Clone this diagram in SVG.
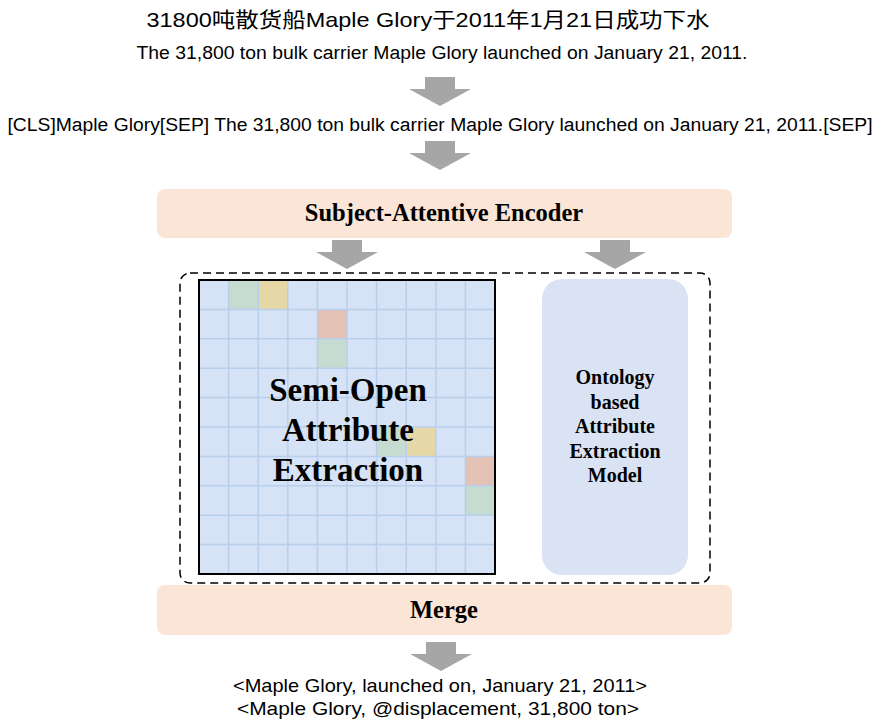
<svg xmlns="http://www.w3.org/2000/svg" width="878" height="726" viewBox="0 0 878 726">
<style>
.sans{font-family:"Liberation Sans",Arial,"Noto Sans CJK SC",sans-serif;fill:#000}
.serif{font-family:"Liberation Serif","Times New Roman",serif;font-weight:bold;fill:#000}
.arrow{fill:#a6a6a6}
.peach{fill:#fbe5d6}
.cell{fill:#d6e2f5}
.gl{stroke:#b8cfec;stroke-width:1.5}
.g{fill:#c6dcd0}
.y{fill:#e6d7a6}
.r{fill:#e3c1b4}
</style>
<defs>
<path id="arr" d="M-15,0 H15 V12 H31 L0,29 L-31,12 H-15 Z"/>
</defs>
<rect width="878" height="726" fill="#fff"/>
<g id="input">
<text class="sans" x="428" y="27" font-size="21" text-anchor="middle" textLength="563" lengthAdjust="spacingAndGlyphs">31800吨散货船Maple Glory于2011年1月21日成功下水</text>
<text class="sans" x="442" y="59" font-size="18" text-anchor="middle" textLength="611" lengthAdjust="spacingAndGlyphs">The 31,800 ton bulk carrier Maple Glory launched on January 21, 2011.</text>
</g>
<g id="tokens">
<text class="sans" x="440" y="131" font-size="18" text-anchor="middle" textLength="865" lengthAdjust="spacingAndGlyphs">[CLS]Maple Glory[SEP] The 31,800 ton bulk carrier Maple Glory launched on January 21, 2011.[SEP]</text>
</g>
<g id="encoder">
<rect class="peach" x="157" y="189" width="575" height="49" rx="8"/>
<text class="serif" x="444" y="221" font-size="24.5" text-anchor="middle">Subject-Attentive Encoder</text>
</g>
<g id="container">
<rect x="180" y="273" width="530" height="310" rx="10" fill="none" stroke="#000" stroke-width="1.5" stroke-dasharray="8,5"/>
</g>
<g id="semi-open">
<rect class="cell" x="199" y="280" width="296" height="294"/>
<rect class="g" x="228.6" y="280" width="29.6" height="29.4"/>
<rect class="y" x="258.2" y="280" width="29.6" height="29.4"/>
<rect class="r" x="317.4" y="309.4" width="29.6" height="29.4"/>
<rect class="g" x="317.4" y="338.8" width="29.6" height="29.4"/>
<rect class="g" x="376.6" y="427" width="29.6" height="29.4"/>
<rect class="y" x="406.2" y="427" width="29.6" height="29.4"/>
<rect class="r" x="465.4" y="456.4" width="29.6" height="29.4"/>
<rect class="g" x="465.4" y="485.8" width="29.6" height="29.4"/>
<path class="gl" d="M228.6,280V574M258.2,280V574M287.8,280V574M317.4,280V574M347,280V574M376.6,280V574M406.2,280V574M435.8,280V574M465.4,280V574M199,309.4H495M199,338.8H495M199,368.2H495M199,397.6H495M199,427H495M199,456.4H495M199,485.8H495M199,515.2H495M199,544.6H495"/>
<rect x="199" y="280" width="296" height="294" fill="none" stroke="#000" stroke-width="2"/>
<text class="serif" font-size="33" text-anchor="middle"><tspan x="348" y="401">Semi-Open</tspan><tspan x="348" y="441">Attribute</tspan><tspan x="348" y="481">Extraction</tspan></text>
</g>
<g id="ontology">
<rect x="542" y="279" width="146" height="296" rx="20" fill="#dae3f3"/>
<text class="serif" font-size="20" text-anchor="middle"><tspan x="615" y="384">Ontology</tspan><tspan x="615" y="408.5">based</tspan><tspan x="615" y="433">Attribute</tspan><tspan x="615" y="457.5">Extraction</tspan><tspan x="615" y="482">Model</tspan></text>
</g>
<g id="merge">
<rect class="peach" x="157" y="585" width="575" height="50" rx="8"/>
<text class="serif" x="444" y="618" font-size="24.5" text-anchor="middle">Merge</text>
</g>
<g id="output">
<text class="sans" x="440" y="692" font-size="19" text-anchor="middle" textLength="414" lengthAdjust="spacingAndGlyphs">&lt;Maple Glory, launched on, January 21, 2011&gt;</text>
<text class="sans" x="438" y="715" font-size="19" text-anchor="middle" textLength="402" lengthAdjust="spacingAndGlyphs">&lt;Maple Glory, @displacement, 31,800 ton&gt;</text>
</g>
<g id="connectors">
<use href="#arr" class="arrow" x="440" y="77"/>
<use href="#arr" class="arrow" x="440" y="141"/>
<use href="#arr" class="arrow" x="347" y="240"/>
<use href="#arr" class="arrow" x="615" y="240"/>
<use href="#arr" class="arrow" x="441" y="642"/>
</g>
</svg>
